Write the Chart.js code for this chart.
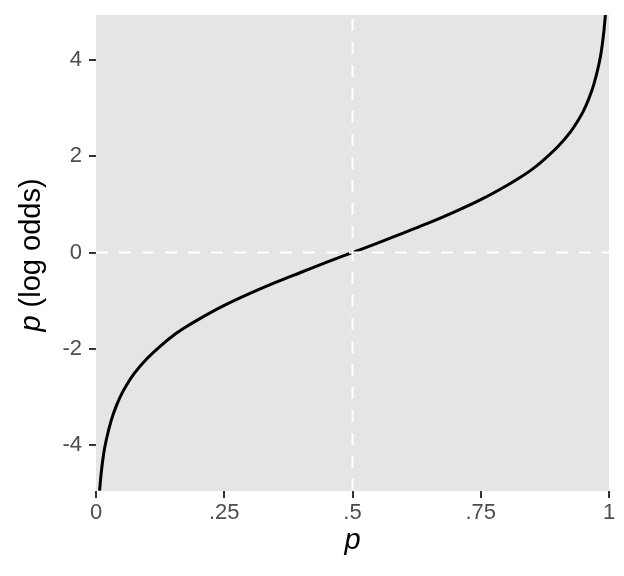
<!DOCTYPE html>
<html>
<head>
<meta charset="utf-8">
<script src="https://cdn.jsdelivr.net/npm/chart.js@4.4.1/dist/chart.umd.min.js"></script>
<style>
  html, body { margin: 0; padding: 0; background: #ffffff; }
  #wrap { width: 624px; height: 576px; }
</style>
</head>
<body>
<div id="wrap"><canvas id="logitChart" width="624" height="576"></canvas></div>
<script>
// values
const probValues = [0.007, 0.01, 0.015, 0.02, 0.03, 0.04, 0.05, 0.06, 0.075, 0.1, 0.125, 0.15, 0.175, 0.2, 0.25,
                    0.3, 0.35, 0.4, 0.45, 0.5, 0.55, 0.6, 0.65, 0.7, 0.75, 0.8, 0.825, 0.85, 0.875, 0.9,
                    0.925, 0.94, 0.95, 0.96, 0.97, 0.98, 0.985, 0.99, 0.993];
const logOddsValues = [-4.95, -4.6, -4.18, -3.9, -3.48, -3.18, -2.94, -2.75, -2.51, -2.2, -1.95, -1.73, -1.55, -1.39, -1.1,
                       -0.85, -0.62, -0.41, -0.2, 0, 0.2, 0.41, 0.62, 0.85, 1.1, 1.39, 1.55, 1.73, 1.95, 2.2,
                       2.51, 2.75, 2.94, 3.18, 3.48, 3.9, 4.18, 4.6, 4.95];

const xTickValues = [0, 0.25, 0.5, 0.75, 1];
const xTickLabels = ['0', '.25', '.5', '.75', '1'];
const yTickValues = [-4, -2, 0, 2, 4];
const yTickLabels = ['-4', '-2', '0', '2', '4'];

const refX = 0.5;   // dashed vertical reference
const refY = 0;     // dashed horizontal reference
const xRange = [0, 1];
const yRange = [-4.96, 4.94];

const FONT = "'Liberation Sans', Arial, Helvetica, sans-serif";

// grey panel behind the plot area
const panelBackground = {
    id: 'panelBackground',
    beforeDraw(chart) {
        const { ctx, chartArea } = chart;
        ctx.save();
        ctx.fillStyle = '#E5E5E5';
        ctx.fillRect(chartArea.left, chartArea.top, chartArea.right - chartArea.left, chartArea.bottom - chartArea.top);
        ctx.restore();
    }
};

// axis titles with an italic "p"
function drawMixed(ctx, parts, size) {
    let total = 0;
    parts.forEach(p => {
        ctx.font = (p.italic ? 'italic ' : '') + size + 'px ' + FONT;
        p.w = ctx.measureText(p.text).width;
        total += p.w;
    });
    let x = -total / 2;
    parts.forEach(p => {
        ctx.font = (p.italic ? 'italic ' : '') + size + 'px ' + FONT;
        ctx.fillText(p.text, x, 0);
        x += p.w;
    });
}

const axisTitles = {
    id: 'axisTitles',
    afterDraw(chart) {
        const { ctx, chartArea } = chart;
        ctx.save();
        ctx.fillStyle = '#000000';
        ctx.textBaseline = 'alphabetic';
        ctx.textAlign = 'left';

        ctx.save();
        ctx.translate((chartArea.left + chartArea.right) / 2, 549);
        drawMixed(ctx, [{ text: 'p', italic: true }], 29);
        ctx.restore();

        ctx.save();
        ctx.translate(40, (chartArea.top + chartArea.bottom) / 2 + 2);
        ctx.rotate(-Math.PI / 2);
        drawMixed(ctx, [{ text: 'p', italic: true }, { text: ' (log odds)', italic: false }], 29);
        ctx.restore();

        ctx.restore();
    }
};

const dashStyle = {
    borderColor: '#FFFFFF',
    borderWidth: 2,
    borderDash: [12, 11],
    pointRadius: 0,
    tension: 0,
    fill: false
};

const ctx = document.getElementById('logitChart').getContext('2d');
new Chart(ctx, {
    type: 'line',
    data: {
        datasets: [
            {
                ...dashStyle,
                data: [{ x: refX, y: yRange[0] }, { x: refX, y: yRange[1] }]
            },
            {
                ...dashStyle,
                data: [{ x: xRange[0], y: refY }, { x: xRange[1], y: refY }]
            },
            {
                data: probValues.map((p, i) => ({ x: p, y: logOddsValues[i] })),
                borderColor: '#000000',
                borderWidth: 3,
                pointRadius: 0,
                cubicInterpolationMode: 'monotone',
                fill: false
            }
        ]
    },
    options: {
        responsive: false,
        animation: false,
        devicePixelRatio: 1,
        layout: { padding: { top: 15, right: 15, left: 0, bottom: 0 } },
        plugins: {
            legend: { display: false },
            tooltip: { enabled: false }
        },
        scales: {
            x: {
                type: 'linear',
                min: xRange[0],
                max: xRange[1],
                afterBuildTicks: scale => { scale.ticks = xTickValues.map(v => ({ value: v })); },
                afterFit: scale => { scale.height = 85; },
                ticks: {
                    autoSkip: false,
                    maxRotation: 0,
                    padding: 2,
                    color: '#4D4D4D',
                    font: { family: FONT, size: 22 },
                    callback: (value, index) => xTickLabels[index]
                },
                grid: {
                    drawOnChartArea: false,
                    drawTicks: true,
                    tickLength: 7,
                    color: '#333333',
                    lineWidth: 2
                },
                border: { display: false }
            },
            y: {
                type: 'linear',
                min: yRange[0],
                max: yRange[1],
                afterBuildTicks: scale => { scale.ticks = yTickValues.map(v => ({ value: v })); },
                afterFit: scale => {
                    scale.width = 96;
                    scale.paddingTop = 0;
                    scale.paddingBottom = 0;
                },
                ticks: {
                    autoSkip: false,
                    padding: 7,
                    color: '#4D4D4D',
                    font: { family: FONT, size: 22 },
                    callback: (value, index) => yTickLabels[index]
                },
                grid: {
                    drawOnChartArea: false,
                    drawTicks: true,
                    tickLength: 7,
                    color: '#333333',
                    lineWidth: 2
                },
                border: { display: false }
            }
        }
    },
    plugins: [panelBackground, axisTitles]
});
</script>
</body>
</html>
